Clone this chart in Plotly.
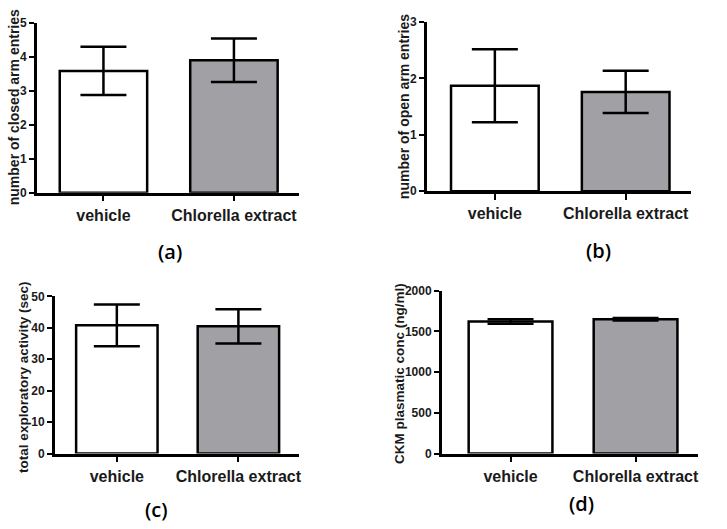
import plotly.graph_objects as go

W, H = 727, 529

categories = ["vehicle", "Chlorella extract"]
closed_mean = [3.58, 3.89]
closed_err = [0.71, 0.64]
open_mean = [1.87, 1.76]
open_err = [0.645, 0.375]
explor_mean = [40.8, 40.5]
explor_err = [6.65, 5.45]
ckm_mean = [1622, 1650]
ckm_err = [28, 15]

y_titles = ["number of closed arm entries", "number of open arm entries",
            "total exploratory activity (sec)", "CKM plasmatic conc (ng/ml)"]
panel_labels = ["(a)", "(b)", "(c)", "(d)"]
y_ranges = [[0, 5], [0, 3], [0, 50], [0, 2000]]
y_dticks = [1, 1, 10, 500]

fills = ["white", "#a1a0a5"]

# pixel boxes: (left, right, top, bottom)
boxes = [(37, 300, 16, 190.7), (428, 693, 15.3, 189.3),
         (55, 300, 297.3, 458.7), (443, 700, 291.5, 458.7)]
xranges = [[-0.51, 1.5], [-0.52, 1.5], [-0.51, 1.5], [-0.55, 1.5]]

means = [closed_mean, open_mean, explor_mean, ckm_mean]
errs = [closed_err, open_err, explor_err, ckm_err]

fig = go.Figure()
FONT = "Liberation Sans, Arial, sans-serif"
layout = dict(width=W, height=H, margin=dict(l=0, r=0, t=0, b=0),
              paper_bgcolor="white", plot_bgcolor="white", showlegend=False)
annotations = []
title_pos = [(13.5, 102.5, 14), (404.5, 102.5, 14), (24, 380, 13.5), (400, 376, 13.5)]
label_pos = [(170, 251), (600, 250), (157, 516), (583, 510)]

for i in range(4):
    sfx = "" if i == 0 else str(i + 1)
    l, r, t, b = boxes[i]
    fig.add_trace(go.Bar(
        x=[0, 1], y=means[i], width=0.67,
        marker=dict(color=fills, line=dict(color="black", width=2.5)),
        error_y=dict(type="data", array=errs[i], thickness=2.5, width=23, color="black"),
        xaxis="x" + sfx, yaxis="y" + sfx, hoverinfo="skip"))
    layout["xaxis" + sfx] = dict(
        domain=[l / W, r / W], range=xranges[i], anchor="y" + sfx,
        tickvals=[0, 1], ticktext=categories, showline=True, linecolor="black",
        linewidth=2.5, ticks="outside", ticklen=6, tickwidth=2, tickcolor="black",
        showgrid=False, zeroline=False, ticklabelstandoff=0,
        tickfont=dict(family=FONT, size=16, color="#1a1a1a", weight="bold"))
    layout["yaxis" + sfx] = dict(
        domain=[1 - b / H, 1 - t / H], range=y_ranges[i], anchor="x" + sfx,
        dtick=y_dticks[i], tick0=0, showline=True, linecolor="black",
        linewidth=2.5, ticks="outside", ticklen=5, tickwidth=2, tickcolor="black",
        showgrid=False, zeroline=False,
        tickfont=dict(family=FONT, size=12, color="#1a1a1a", weight="bold"))
    tx, ty, ts = title_pos[i]
    annotations.append(dict(text=y_titles[i], x=tx / W, y=1 - ty / H,
                            xref="paper", yref="paper", showarrow=False,
                            textangle=-90, xanchor="center", yanchor="middle",
                            font=dict(family=FONT, size=ts, color="#1a1a1a", weight="bold")))
    lx, ly = label_pos[i]
    annotations.append(dict(text=panel_labels[i], x=lx / W, y=1 - ly / H,
                            xref="paper", yref="paper", showarrow=False,
                            xanchor="center", yanchor="middle",
                            font=dict(family="Open Sans, sans-serif", size=20,
                                      color="black", weight=600)))

layout["annotations"] = annotations
fig.update_layout(**layout)
fig.write_html("out.html", config={"displayModeBar": False},
               post_script="document.body.style.margin='0';document.body.style.overflow='hidden';")
